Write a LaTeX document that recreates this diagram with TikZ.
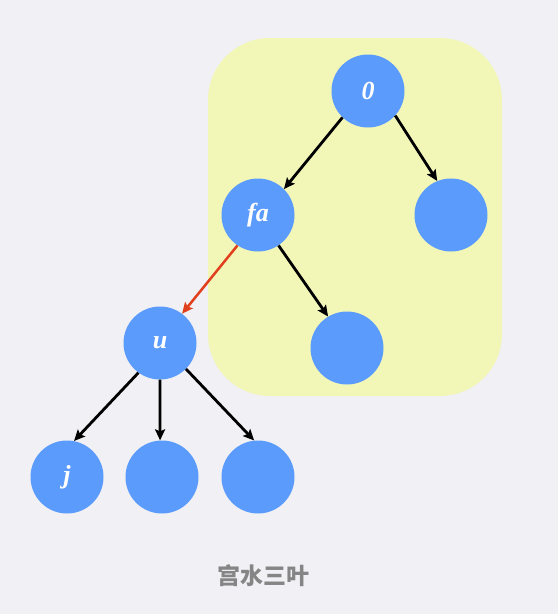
\documentclass[tikz,border=0pt]{standalone}
\usepackage{fontspec}
\setmainfont{Liberation Serif}
\newfontfamily\cjkfont{Noto Sans CJK SC}
\usetikzlibrary{arrows.meta}
\definecolor{bgc}{HTML}{F0F0F5}
\definecolor{hlc}{HTML}{F2F7B8}
\definecolor{ndc}{HTML}{5B9BFC}
\definecolor{redc}{HTML}{E0401E}
\definecolor{capc}{HTML}{858585}
\tikzset{
  tnode/.style={circle,fill=ndc,minimum size=73pt,inner sep=0pt,text=white,font=\fontsize{26pt}{28pt}\selectfont\bfseries\itshape},
  edge/.style={line width=2.8pt,draw=black,-{Stealth[length=11pt,width=10pt,inset=2pt]}},
  redge/.style={edge,draw=redc,line width=2.5pt,-{Stealth[length=11pt,width=10pt,inset=2pt,fill=redc]}},
}
\begin{document}
\begin{tikzpicture}[x=1pt,y=-1pt]
\fill[bgc] (0,0) rectangle (558,614);
\useasboundingbox (0,0) rectangle (558,614);
\fill[hlc,rounded corners=62pt] (208,38) rectangle (502,396);
\node[tnode] (n0) at (368,91) {0};
\node[tnode] (fa) at (258,215) {fa};
\node[tnode] (r1) at (451,215) {};
\node[tnode] (c2) at (347,348) {};
\node[tnode] (u) at (160,343) {u};
\node[tnode] (j) at (67,477) {j};
\node[tnode] (m) at (162,477) {};
\node[tnode] (k) at (258,477) {};
\draw[edge] (n0.226) -- (fa.45);
\draw[edge] (n0.318) -- (r1.112);
\draw[edge] (fa.304) -- (c2.121);
\draw[redge] (fa.236) -- (u.53);
\draw[edge] (u.234) -- (j.79);
\draw[edge] (u.270) -- (m.93);
\draw[edge] (u.315) -- (k.96);
\node[text=capc,font=\cjkfont\bfseries\fontsize{23pt}{25pt}\selectfont] (cap) at (263,576) {宫水三叶};
\end{tikzpicture}
\end{document}
